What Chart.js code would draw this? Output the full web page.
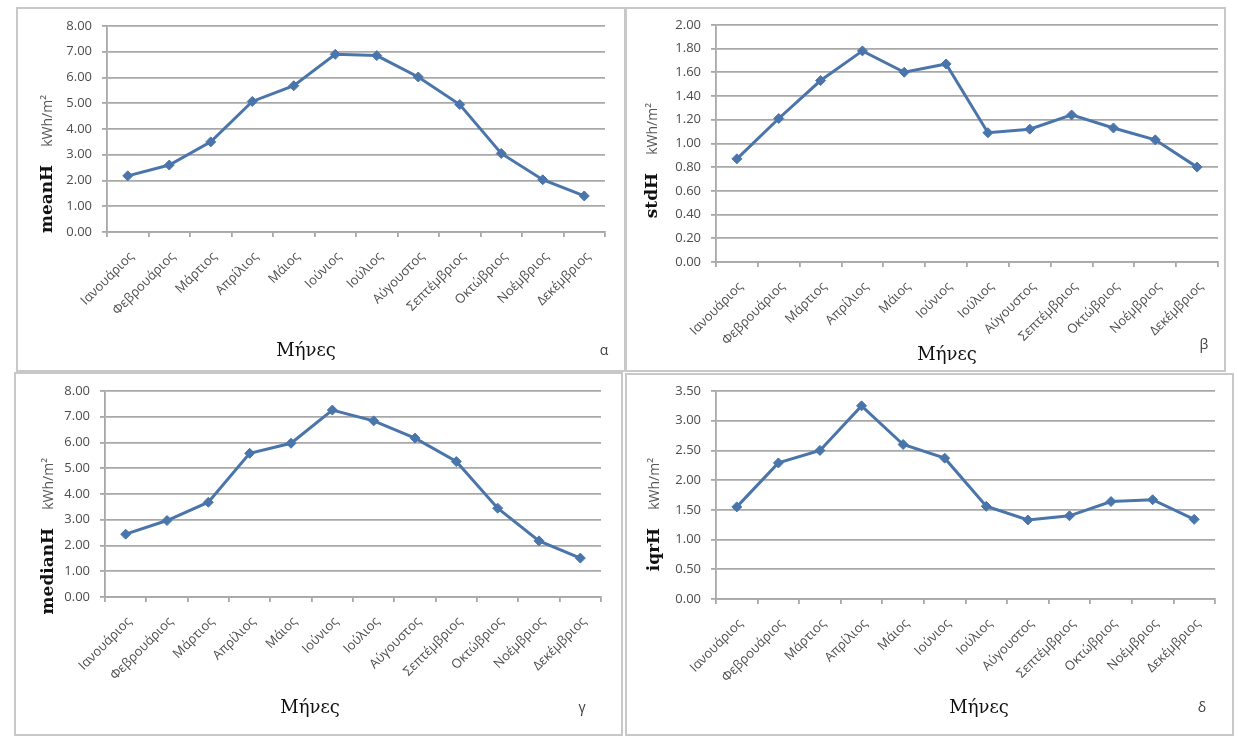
<!DOCTYPE html>
<html>
<head>
<meta charset="utf-8">
<script src="https://cdn.jsdelivr.net/npm/chart.js@4.4.1/dist/chart.umd.min.js"></script>
<style>
  html, body { margin: 0; padding: 0; background: #fff; }
  body { width: 1238px; height: 736px; position: relative; overflow: hidden; }
  .frame { position: absolute; box-sizing: border-box; border: 2px solid #c8c8c8; }
  canvas { position: absolute; }
</style>
</head>
<body>
<script>
// monthly statistics of daily irradiation H (kWh/m²)
const months = ['Ιανουάριος', 'Φεβρουάριος', 'Μάρτιος', 'Απρίλιος', 'Μάιος', 'Ιούνιος',
  'Ιούλιος', 'Αύγουστος', 'Σεπτέμβριος', 'Οκτώβριος', 'Νοέμβριος', 'Δεκέμβριος']
const meanH = [2.18, 2.60, 3.50, 5.07, 5.68, 6.90, 6.85, 6.02, 4.95, 3.05, 2.03, 1.40]
const stdH = [0.87, 1.21, 1.53, 1.78, 1.60, 1.67, 1.09, 1.12, 1.24, 1.13, 1.03, 0.80]
const medianH = [2.44, 2.97, 3.68, 5.58, 5.97, 7.26, 6.84, 6.17, 5.26, 3.45, 2.18, 1.51]
const iqrH = [1.55, 2.29, 2.50, 3.25, 2.60, 2.37, 1.56, 1.33, 1.40, 1.64, 1.67, 1.34]

// y axis ranges: [max, step]
const meanAxis = [8, 1]
const stdAxis = [2, 0.2]
const medianAxis = [8, 1]
const iqrAxis = [3.5, 0.5]

const xTitle = 'Μήνες'
const unit = 'kWh/m²'

const LINE = '#4a75ab'
const GRID = '#a8a8a8'
const TICK_TEXT = '#4d4d4d'
const tickFont = { family: '"Open Sans"', size: 13 }

// page layout of the four panels: box/plot are [left, top, right, bottom]
const panels = [
  { name: 'meanH', letter: 'α', data: meanH, axis: meanAxis,
    box: [16, 7, 626, 372], plot: [107, 26, 605, 232],
    yTitle: [48, 95], xTitlePos: [306, 351], letterPos: [604, 351] },
  { name: 'stdH', letter: 'β', data: stdH, axis: stdAxis,
    box: [625, 7, 1226, 372], plot: [716, 18, 1218, 262],
    yTitle: [653, 103], xTitlePos: [947, 355], letterPos: [1204, 345] },
  { name: 'medianH', letter: 'γ', data: medianH, axis: medianAxis,
    box: [14, 372, 623, 736], plot: [105, 391, 601, 597],
    yTitle: [49, 458], xTitlePos: [310, 708], letterPos: [582, 708] },
  { name: 'iqrH', letter: 'δ', data: iqrH, axis: iqrAxis,
    box: [625, 373, 1234, 736], plot: [716, 391, 1215, 599],
    yTitle: [655, 458], xTitlePos: [979, 708], letterPos: [1202, 708] },
]

function panelLabels(p) {
  return {
    id: 'panelLabels',
    afterDraw(chart) {
      const ctx = chart.ctx
      const ox = p.box[0]
      const oy = p.box[1]
      ctx.save()
      // axis title reads upward: unit on top, variable name under it
      ctx.translate(p.yTitle[0] - ox, p.yTitle[1] - oy)
      ctx.rotate(-Math.PI / 2)
      ctx.textBaseline = 'middle'
      ctx.textAlign = 'right'
      ctx.font = '14px "Open Sans"'
      ctx.fillStyle = '#555'
      ctx.fillText(unit, 0, 0)
      const uw = ctx.measureText(unit).width
      ctx.font = 'bold 17px "DejaVu Serif"'
      ctx.fillStyle = '#111'
      ctx.fillText(p.name, -(uw + 18), 0)
      ctx.restore()

      ctx.save()
      ctx.textAlign = 'center'
      ctx.textBaseline = 'middle'
      ctx.font = '18px "DejaVu Serif"'
      ctx.fillStyle = '#111'
      ctx.fillText(xTitle, p.xTitlePos[0] - ox, p.xTitlePos[1] - oy)
      ctx.font = '14px "Open Sans"'
      ctx.fillStyle = '#404040'
      ctx.fillText(p.letter, p.letterPos[0] - ox, p.letterPos[1] - oy)
      ctx.restore()
    },
  }
}

panels.forEach((p) => {
  const [bl, bt, br, bb] = p.box
  const [pl, pt, pr, pb] = p.plot
  const w = br - bl
  const h = bb - bt

  const frame = document.createElement('div')
  frame.className = 'frame'
  Object.assign(frame.style, { left: bl + 'px', top: bt + 'px', width: w + 'px', height: h + 'px' })
  document.body.appendChild(frame)

  const canvas = document.createElement('canvas')
  canvas.width = w
  canvas.height = h
  Object.assign(canvas.style, { left: bl + 'px', top: bt + 'px', width: w + 'px', height: h + 'px' })
  document.body.appendChild(canvas)

  new Chart(canvas.getContext('2d'), {
    type: 'line',
    data: {
      labels: months,
      datasets: [
        {
          data: p.data,
          borderColor: LINE,
          backgroundColor: LINE,
          borderWidth: 3,
          pointStyle: 'rectRot',
          pointRadius: 5,
          pointBorderWidth: 1,
          tension: 0,
        },
      ],
    },
    options: {
      responsive: false,
      animation: false,
      devicePixelRatio: 1,
      events: [],
      layout: { padding: { left: 0, right: br - pr, top: pt - bt, bottom: 0 } },
      plugins: {
        legend: { display: false },
        tooltip: { enabled: false },
      },
      scales: {
        x: {
          offset: true,
          grid: { offset: true, drawOnChartArea: false, color: GRID, lineWidth: 1.8, tickLength: 5 },
          border: { color: GRID, width: 1.8 },
          ticks: {
            autoSkip: false,
            minRotation: 45,
            maxRotation: 45,
            font: tickFont,
            color: TICK_TEXT,
            padding: 12,
            labelOffset: 4,
          },
          afterFit: (s) => { s.height = bb - pb },
        },
        y: {
          min: 0,
          max: p.axis[0],
          grid: { color: GRID, lineWidth: 1.8, tickLength: 5 },
          border: { color: GRID, width: 1.8 },
          ticks: {
            stepSize: p.axis[1],
            font: tickFont,
            color: TICK_TEXT,
            padding: 10,
            callback: (v) => v.toFixed(2),
          },
          afterFit: (s) => { s.width = pl - bl },
        },
      },
    },
    plugins: [panelLabels(p)],
  })
})
</script>
</body>
</html>
